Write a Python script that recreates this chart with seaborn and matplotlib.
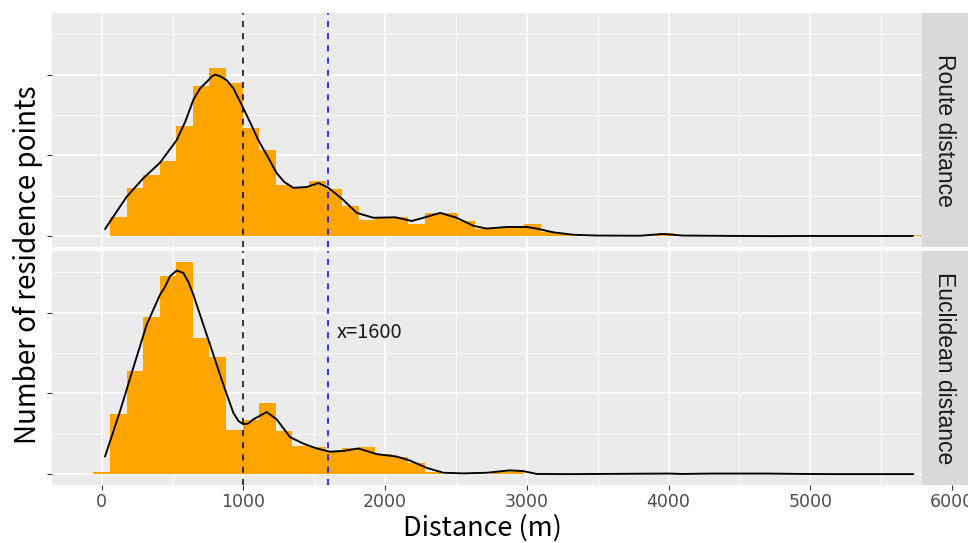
import matplotlib
import numpy as np
import pandas as pd
import seaborn as sns

matplotlib.use("Agg")
import matplotlib.pyplot as plt

# histogram: 50 bins of 117 m centred on 0, 117, 234, ... (density per km)
BIN_WIDTH = 117
route_hist = [0.005, 0.12, 0.30, 0.38, 0.465, 0.685, 0.93, 1.04, 0.945, 0.67,
              0.535, 0.315, 0.30, 0.345, 0.29, 0.185, 0.10, 0.12, 0.12, 0.078,
              0.145, 0.145, 0.092, 0.045, 0.058, 0.058, 0.078, 0.03, 0.015, 0.005,
              0.004, 0.002, 0.002, 0.01, 0.02, 0.005, 0.002, 0.0, 0.002, 0.0,
              0.0, 0.002, 0.0, 0.0, 0.002, 0.0, 0.0, 0.0, 0.002, 0.006]
euclid_hist = [0.012, 0.375, 0.64, 0.97, 1.225, 1.315, 0.845, 0.725, 0.275, 0.335,
               0.44, 0.265, 0.175, 0.17, 0.14, 0.165, 0.17, 0.125, 0.105, 0.07,
               0.015, 0.005, 0.002, 0.005, 0.015, 0.025, 0.005, 0.0, 0.0, 0.0,
               0.0, 0.0, 0.0, 0.0, 0.002, 0.0, 0.002, 0.0, 0.0, 0.0,
               0.002, 0.0, 0.002, 0.0, 0.0, 0.0, 0.0, 0.0, 0.0, 0.002]

# density curves
route_kde_x = [23, 176, 294, 411, 529, 590, 647, 694, 741, 776,
               800, 835, 882, 929, 995, 1050, 1105, 1170, 1235, 1290,
               1352, 1447, 1529, 1600, 1705, 1800, 1917, 2070, 2188, 2270,
               2388, 2505, 2623, 2717, 2858, 2999, 3070, 3187, 3328, 3493,
               3800, 3963, 4100, 4500, 4700, 5000, 5400, 5725]
route_kde_y = [0.045, 0.245, 0.36, 0.455, 0.595, 0.71, 0.845, 0.915, 0.955, 0.988,
               1.0, 0.99, 0.965, 0.915, 0.80, 0.70, 0.595, 0.495, 0.39, 0.335,
               0.30, 0.305, 0.33, 0.30, 0.225, 0.145, 0.115, 0.118, 0.095, 0.115,
               0.145, 0.115, 0.065, 0.048, 0.058, 0.058, 0.048, 0.025, 0.01, 0.005,
               0.004, 0.015, 0.005, 0.0025, 0.0015, 0.0025, 0.002, 0.0025]
euclid_kde_x = [23, 129, 223, 317, 411, 447, 482, 529, 576, 611,
                647, 717, 788, 858, 929, 965, 999, 1035, 1070, 1164,
                1235, 1329, 1423, 1517, 1611, 1705, 1811, 1941, 2082, 2176,
                2294, 2411, 2552, 2717, 2882, 2975, 3070, 3300, 4000, 4100,
                4300, 4700, 4950, 5200, 5728]
euclid_kde_y = [0.11, 0.39, 0.66, 0.925, 1.11, 1.16, 1.225, 1.26, 1.245, 1.19,
                1.11, 0.925, 0.74, 0.555, 0.38, 0.33, 0.31, 0.315, 0.34, 0.385,
                0.34, 0.23, 0.19, 0.16, 0.14, 0.145, 0.16, 0.125, 0.11, 0.085,
                0.04, 0.01, 0.006, 0.01, 0.025, 0.02, 0.0025, 0.0015, 0.005, 0.0025,
                0.005, 0.005, 0.0025, 0.0015, 0.0015]

panel_labels = ["Route distance", "Euclidean distance"]
x_ticks = [0, 1000, 2000, 3000, 4000, 5000, 6000]
x_minor = [500, 1500, 2500, 3500, 4500, 5500]
y_ticks = [0, 0.5, 1.0]
y_minor = [0.25, 0.75, 1.25]
ref_x = [1000, 1600]
ref_colors = ["black", "blue"]
note_text = "x=1600"

sns.set_theme(style="darkgrid", rc={"axes.facecolor": "#EBEBEB",
                                    "grid.color": "white",
                                    "figure.facecolor": "white"})
plt.rcParams["font.family"] = ["Liberation Sans", "DejaVu Sans"]
title_font = ["Noto Sans CJK SC", "DejaVu Sans"]

W, H = 968, 543
fig = plt.figure(figsize=(W / 100, H / 100), dpi=100)

centers = np.arange(len(route_hist)) * BIN_WIDTH
edges = (np.append(centers - BIN_WIDTH / 2, centers[-1] + BIN_WIDTH / 2)).tolist()

panels = [(route_hist, route_kde_x, route_kde_y),
          (euclid_hist, euclid_kde_x, euclid_kde_y)]
tops = [13, 251]
panel_h = 234
left, right_edge, strip_left = 52, 968, 922

hi = max(max(route_hist), max(euclid_hist))
ylim = (-0.05 * hi, 1.05 * hi)
x0 = -351
x1 = x0 + (right_edge - left) / 141.7 * 1000

for i, (hist, kx, ky) in enumerate(panels):
    rect = [left / W, 1 - (tops[i] + panel_h) / H,
            (right_edge - left) / W, panel_h / H]
    ax = fig.add_axes(rect)
    df = pd.DataFrame({"dist": centers, "dens": hist})
    sns.histplot(data=df, x="dist", weights="dens", bins=edges, stat="count",
                 color="#FFA500", alpha=1, linewidth=0, ax=ax)
    sns.lineplot(x=kx, y=ky, color="black", linewidth=1.35, ax=ax)
    for rx, rc in zip(ref_x, ref_colors):
        ax.axvline(rx, color=rc, linestyle=(0, (4, 4)), linewidth=1.1)

    ax.set_xlim(x0, x1)
    ax.set_ylim(*ylim)
    ax.set_xticks(x_ticks)
    ax.set_xticks(x_minor, minor=True)
    ax.set_yticks(y_ticks)
    ax.set_yticks(y_minor, minor=True)
    ax.set_yticklabels([])
    ax.grid(which="major", color="white", linewidth=1.1)
    ax.grid(which="minor", color="white", linewidth=0.55)
    ax.set_axisbelow(True)
    for s in ax.spines.values():
        s.set_visible(False)
    ax.set_xlabel("")
    ax.set_ylabel("")
    ax.tick_params(which="minor", length=0)
    ax.tick_params(axis="y", which="major", length=3.5, width=0.8,
                   color="#333333", left=True, pad=1)
    if i == 0:
        ax.tick_params(axis="x", which="major", length=0, labelbottom=False)
    else:
        ax.tick_params(axis="x", which="major", length=3.5, width=0.8,
                       color="#333333", bottom=True, labelsize=12.5,
                       labelcolor="#4D4D4D", pad=2)
        for lab in ax.get_xticklabels():
            lab.set_family(["Liberation Sans Narrow", "DejaVu Sans"])
        ax.text(1660, 0.877, note_text, ha="left", va="center", fontsize=14.5,
                color="#1A1A1A", family=title_font)

    sax = fig.add_axes([strip_left / W, rect[1], (right_edge - strip_left) / W,
                        panel_h / H])
    sax.set_facecolor("#D9D9D9")
    sax.set_xticks([])
    sax.set_yticks([])
    sax.grid(False)
    for s in sax.spines.values():
        s.set_visible(False)
    sax.text(0.5, 0.5, panel_labels[i], rotation=-90, ha="center", va="center",
             fontsize=16.5, color="#1A1A1A", transform=sax.transAxes)

fig.text(482 / W, 1 - 536 / H, "Distance (m)", ha="center", va="baseline",
         fontsize=19.5, color="black", family=title_font)
fig.text(28 / W, 1 - 265 / H, "Number of residence points", rotation=90,
         ha="center", va="center", fontsize=20, color="black",
         family=title_font)

fig.savefig("out.png", dpi=100)
plt.close("all")
